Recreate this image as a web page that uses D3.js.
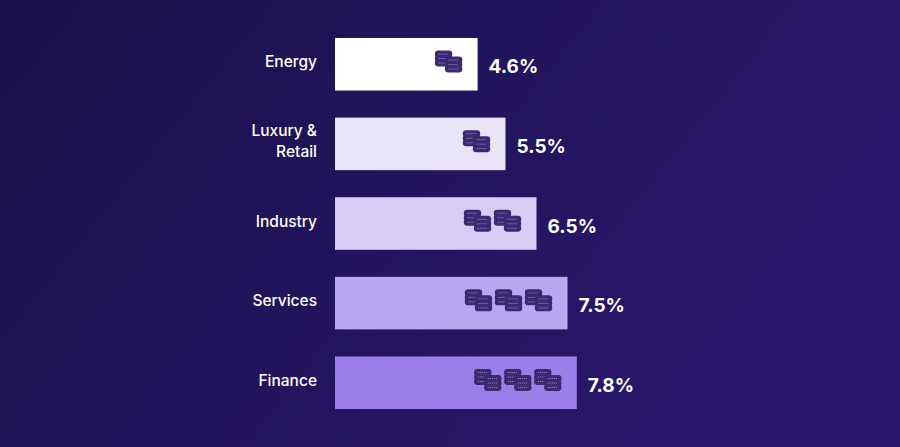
<!DOCTYPE html><html><head><script src="https://cdn.jsdelivr.net/npm/d3@7"></script>
<style>body{margin:0}svg{display:block}</style></head><body><svg id="c" width="900" height="447"></svg>
<script>
const categories=["Energy","Luxury &\nRetail","Industry","Services","Finance"];
const values=[4.6,5.5,6.5,7.5,7.8];
const coins=[1,1,2,3,3];
const labels=["4.6%","5.5%","6.5%","7.5%","7.8%"];
const colors=["#ffffff","#e9e4f6","#d7ccf6","#b9a8f0","#9a7fe8"];
const svg=d3.select("#c");
const defs=svg.append("defs");
const g=defs.append("linearGradient").attr("id","bg").attr("x1","0").attr("y1","0").attr("x2","1").attr("y2","0.4");
g.append("stop").attr("offset","0").attr("stop-color","#1a1148");
g.append("stop").attr("offset","1").attr("stop-color","#2a176e");
svg.append("rect").attr("width",900).attr("height",447).attr("fill","url(#bg)");
const x=d3.scaleLinear().domain([0,1]).range([335,366]);
const y=d3.scaleBand().domain(d3.range(5)).range([38,409]).paddingInner(0.34);
function coin(sel,cx,cy){
  for(let k=0;k<3;k++){
    sel.append("rect").attr("x",cx-8).attr("y",cy-8+k*4.5).attr("width",16).attr("height",5.5).attr("rx",2.7)
      .attr("fill","#3b2a70").attr("stroke","#3b2a70").attr("stroke-width",1.5);
    sel.append("line").attr("x1",cx-5).attr("x2",cx+5).attr("y1",cy-5.2+k*4.5).attr("y2",cy-5.2+k*4.5)
      .attr("stroke","#b9a8f0").attr("stroke-width",0.8).attr("stroke-dasharray","1,1");
  }
}
function icon(sel,x0,y0){
  coin(sel,x0+8,y0+6);coin(sel,x0+18,y0+12);
}
values.forEach((v,i)=>{
  const yy=y(i),h=y.bandwidth(),x1=x(v);
  svg.append("rect").attr("x",x(0)).attr("y",yy).attr("width",x1-x(0)).attr("height",h).attr("fill",colors[i]);
  const n=coins[i];
  for(let j=0;j<n;j++){
    const ix=x1-12-(n-j)*30;
    icon(svg.append("g"),ix,yy+h/2-11);
  }
  svg.append("text").attr("x",x1+11).attr("y",yy+h/2+9).attr("fill","#fff").attr("font-family","Inter, sans-serif")
    .attr("font-weight",700).attr("font-size",19).text(labels[i]);
  const lines=categories[i].split("\n");
  const t=svg.append("text").attr("text-anchor","end").attr("fill","#fff").attr("font-family","Inter, sans-serif").attr("font-weight",500).attr("font-size",15.5);
  lines.forEach((l,k)=>t.append("tspan").attr("x",317).attr("y",yy+h/2+3+(k-(lines.length-1)/2)*21).text(l));
});
</script></body></html>
